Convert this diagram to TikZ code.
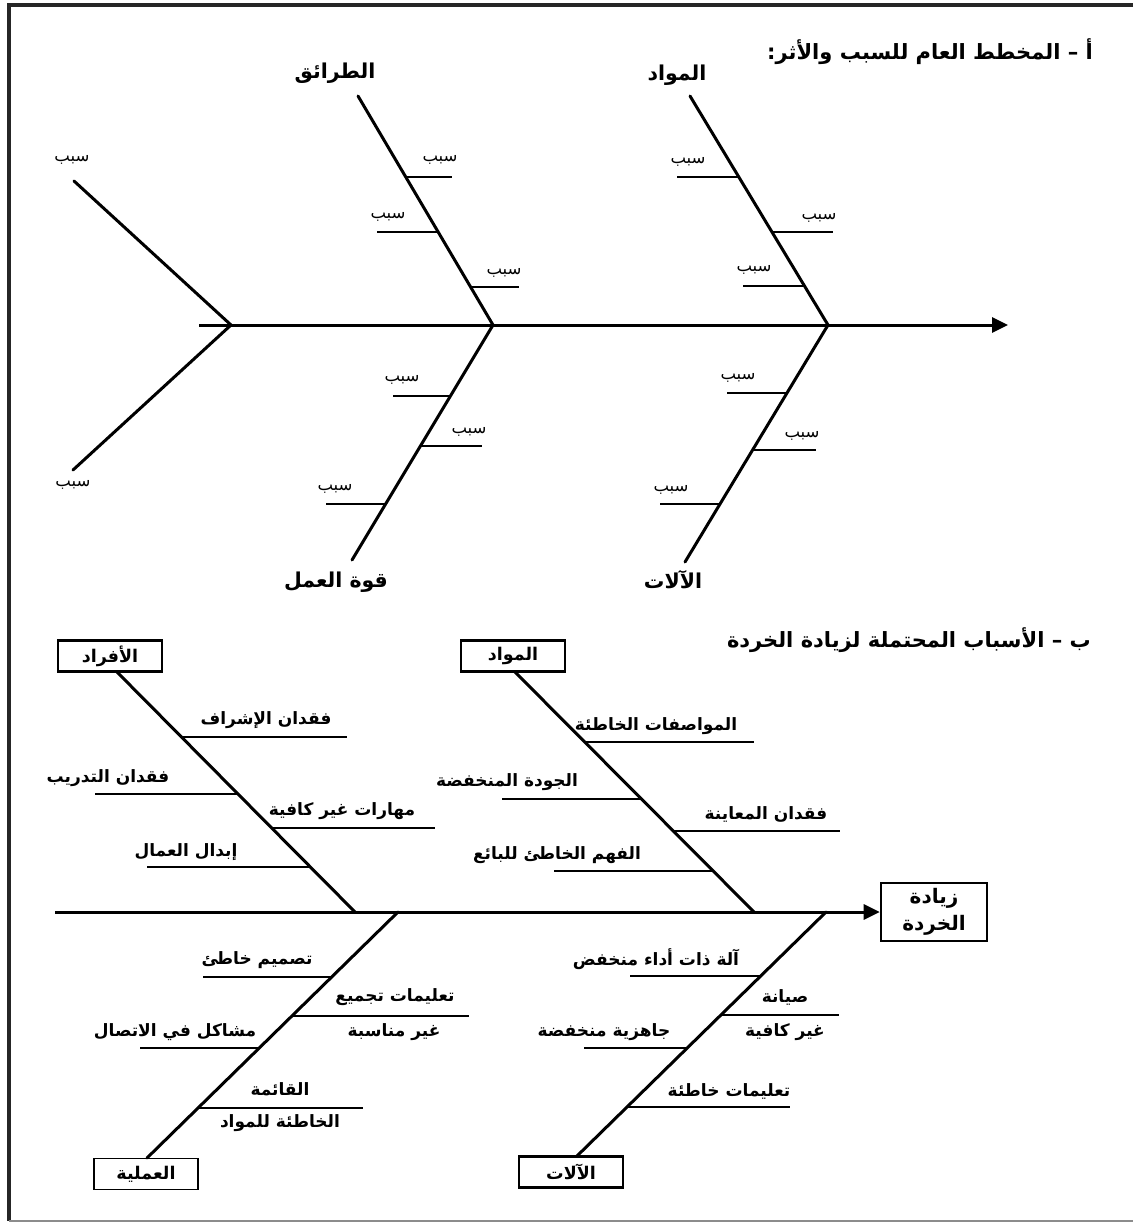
\documentclass[tikz,border=0pt]{standalone}
\usepackage{fontspec}
\usetikzlibrary{arrows.meta}
\TeXXeTstate=1
\newfontfamily\arfont[Script=Arabic]{DejaVu Sans}
\newcommand\artxt[1]{\beginR #1\endR}
\begin{document}
\begin{tikzpicture}[x=1pt,y=-1pt,
  bone/.style={line width=3pt,line cap=round},
  twig/.style={line width=2.8pt},
  frameline/.style={line width=3.2pt,black!85},
  title/.style={font=\arfont\bfseries\fontsize{21}{24}\selectfont,inner sep=0pt},
  head/.style={font=\arfont\bfseries\fontsize{20.5}{24}\selectfont,inner sep=0pt},
  cause/.style={font=\arfont\fontsize{16.5}{18}\selectfont,inner sep=0pt},
  lbl/.style={font=\arfont\bfseries\fontsize{17}{20}\selectfont,inner sep=0pt},
  catbox/.style={draw,line width=2.6pt,font=\arfont\bfseries\fontsize{17.5}{20}\selectfont,
    minimum width=104pt,minimum height=31pt,inner sep=0pt},
  spinearrow/.style={line width=3pt,-{Triangle[length=16pt,width=15pt]}}]
\useasboundingbox (0,0) rectangle (1133,1223);
% outer frame
\draw[frameline] (1133,5) -- (9,5) -- (9,1221);
\draw[line width=1.4pt,black!45] (9,1221) -- (1133,1221);

% ---------------- general cause and effect diagram ----------------
\node[title,anchor=east] (ta) at (1093,52) {\artxt{أ – المخطط العام للسبب والأثر:}};
\coordinate (sA) at (199,325);
\coordinate (eA) at (1008,325);
\coordinate (tailA) at (231,325);
\coordinate (jA1) at (493,325);
\coordinate (jA2) at (828,325);
\draw[spinearrow] (sA) -- (eA);
% tail fork
\coordinate (tu) at (74,181);
\coordinate (td) at (73,470);
\draw[bone] (tu) -- (tailA) -- (td);
\node[cause] (ctu) at (72,160) {\artxt{سبب}};
\node[cause] (ctd) at (73,485) {\artxt{سبب}};
% methods
\coordinate (mt) at (358,96);
\draw[bone] (mt) -- (jA1);
\node[head] (hm) at (335,73) {\artxt{الطرائق}};
\coordinate (m1) at (406,177); \coordinate (m1e) at (452,177);
\coordinate (m2) at (438,232); \coordinate (m2e) at (377,232);
\coordinate (m3) at (471,287); \coordinate (m3e) at (519,287);
\draw[twig] (m1) -- (m1e); \draw[twig] (m2) -- (m2e); \draw[twig] (m3) -- (m3e);
\node[cause] (cm1) at (440,160) {\artxt{سبب}};
\node[cause] (cm2) at (388,217) {\artxt{سبب}};
\node[cause] (cm3) at (504,273) {\artxt{سبب}};
% materials
\coordinate (at) at (690,96);
\draw[bone] (at) -- (jA2);
\node[head] (ha) at (677,75) {\artxt{المواد}};
\coordinate (a1) at (739,177); \coordinate (a1e) at (677,177);
\coordinate (a2) at (772,232); \coordinate (a2e) at (833,232);
\coordinate (a3) at (805,286); \coordinate (a3e) at (743,286);
\draw[twig] (a1) -- (a1e); \draw[twig] (a2) -- (a2e); \draw[twig] (a3) -- (a3e);
\node[cause] (ca1) at (688,162) {\artxt{سبب}};
\node[cause] (ca2) at (819,218) {\artxt{سبب}};
\node[cause] (ca3) at (754,270) {\artxt{سبب}};
% manpower
\coordinate (wb) at (352,560);
\draw[bone] (jA1) -- (wb);
\node[head] (hw) at (336,582) {\artxt{قوة العمل}};
\coordinate (w1) at (450,396); \coordinate (w1e) at (393,396);
\coordinate (w2) at (420,446); \coordinate (w2e) at (482,446);
\coordinate (w3) at (386,504); \coordinate (w3e) at (326,504);
\draw[twig] (w1) -- (w1e); \draw[twig] (w2) -- (w2e); \draw[twig] (w3) -- (w3e);
\node[cause] (cw1) at (402,380) {\artxt{سبب}};
\node[cause] (cw2) at (469,432) {\artxt{سبب}};
\node[cause] (cw3) at (335,489) {\artxt{سبب}};
% machines
\coordinate (kb) at (685,562);
\draw[bone] (jA2) -- (kb);
\node[head] (hk) at (673,580) {\artxt{الآلات}};
\coordinate (k1) at (787,393); \coordinate (k1e) at (727,393);
\coordinate (k2) at (753,450); \coordinate (k2e) at (816,450);
\coordinate (k3) at (720,504); \coordinate (k3e) at (660,504);
\draw[twig] (k1) -- (k1e); \draw[twig] (k2) -- (k2e); \draw[twig] (k3) -- (k3e);
\node[cause] (ck1) at (738,378) {\artxt{سبب}};
\node[cause] (ck2) at (802,436) {\artxt{سبب}};
\node[cause] (ck3) at (671,490) {\artxt{سبب}};

% ---------------- probable causes of increased scrap ----------------
\node[title,anchor=east] (tb) at (1091,640) {\artxt{ب – الأسباب المحتملة لزيادة الخردة}};
\node[catbox,minimum width=106pt,minimum height=58pt,align=center,
  font=\arfont\bfseries\fontsize{20}{27}\selectfont] (eff) at (934,912)
  {\artxt{زيادة}\\\artxt{الخردة}};
\coordinate (sB) at (55,912);
\coordinate (jB1) at (355,912);
\coordinate (jB2) at (754,912);
\coordinate (jB3) at (398,912);
\coordinate (jB4) at (826,912);
\draw[spinearrow] (sB) -- (eff.west);
% people
\node[catbox] (bp) at (110,656) {\artxt{الأفراد}};
\draw[bone] (117,672) -- (jB1);
\draw[twig] (181,737) -- (347,737);
\draw[twig] (238,794) -- (95,794);
\draw[twig] (271,828) -- (435,828);
\draw[twig] (310,867) -- (147,867);
\node[lbl] (p1) at (266,720) {\artxt{فقدان الإشراف}};
\node[lbl] (p2) at (108,778) {\artxt{فقدان التدريب}};
\node[lbl] (p3) at (342,811) {\artxt{مهارات غير كافية}};
\node[lbl] (p4) at (186,852) {\artxt{إبدال العمال}};
% materials
\node[catbox] (bm) at (513,656) {\artxt{المواد}};
\draw[bone] (515,672) -- (jB2);
\draw[twig] (585,742) -- (754,742);
\draw[twig] (642,799) -- (502,799);
\draw[twig] (674,831) -- (840,831);
\draw[twig] (714,871) -- (554,871);
\node[lbl] (q1) at (656,726) {\artxt{المواصفات الخاطئة}};
\node[lbl] (q2) at (507,782) {\artxt{الجودة المنخفضة}};
\node[lbl] (q3) at (766,814) {\artxt{فقدان المعاينة}};
\node[lbl] (q4) at (557,855) {\artxt{الفهم الخاطئ للبائع}};
% process
\node[catbox,line width=1.6pt] (bo) at (146,1174) {\artxt{العملية}};
\draw[bone] (jB3) -- (147,1158);
\draw[twig] (332,977) -- (203,977);
\draw[twig] (292,1016) -- (469,1016);
\draw[twig] (259,1048) -- (140,1048);
\draw[twig] (198,1108) -- (363,1108);
\node[lbl] (o1) at (257,960) {\artxt{تصميم خاطئ}};
\node[lbl] (o2) at (395,997) {\artxt{تعليمات تجميع}};
\node[lbl] (o3) at (394,1032) {\artxt{غير مناسبة}};
\node[lbl] (o4) at (175,1032) {\artxt{مشاكل في الاتصال}};
\node[lbl] (o5) at (280,1089) {\artxt{القائمة}};
\node[lbl] (o6) at (280,1123) {\artxt{الخاطئة للمواد}};
% machines
\node[catbox] (bk) at (571,1172) {\artxt{الآلات}};
\draw[bone] (jB4) -- (577,1156);
\draw[twig] (760,976) -- (630,976);
\draw[twig] (720,1015) -- (839,1015);
\draw[twig] (687,1048) -- (584,1048);
\draw[twig] (626,1107) -- (790,1107);
\node[lbl] (r1) at (656,959) {\artxt{آلة ذات أداء منخفض}};
\node[lbl] (r2) at (785,997) {\artxt{صيانة}};
\node[lbl] (r3) at (785,1032) {\artxt{غير كافية}};
\node[lbl] (r4) at (604,1032) {\artxt{جاهزية منخفضة}};
\node[lbl] (r5) at (729,1091) {\artxt{تعليمات خاطئة}};
\end{tikzpicture}
\end{document}
